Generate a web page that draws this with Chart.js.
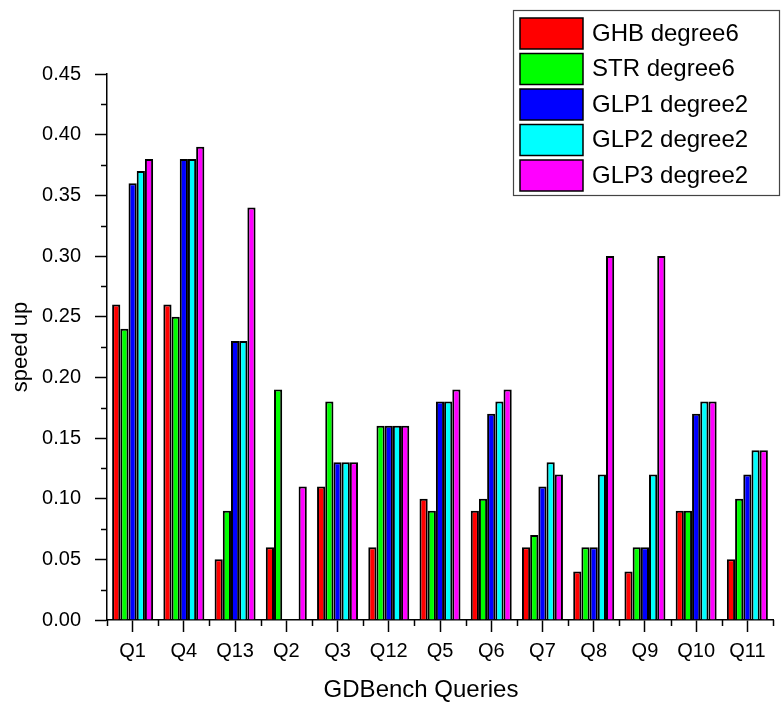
<!DOCTYPE html>
<html lang="en">
<head>
    <meta charset="UTF-8">
    <title>GDBench speed up</title>
    <script src="https://cdn.jsdelivr.net/npm/chart.js"></script>
    <style>
        * { margin: 0; padding: 0; box-sizing: border-box; }
        body { background: white; width: 783px; height: 708px; overflow: hidden; }
        .chart-box { position: relative; width: 783px; height: 708px; }
    </style>
</head>
<body>
    <div class="chart-box">
        <canvas id="speedChart"></canvas>
    </div>

    <script>
        // queries on the x axis
        const categories = ['Q1', 'Q4', 'Q13', 'Q2', 'Q3', 'Q12', 'Q5', 'Q6', 'Q7', 'Q8', 'Q9', 'Q10', 'Q11'];

        // speed up per query, one array per method
        const ghbDegree6 = [0.26, 0.26, 0.05, 0.06, 0.11, 0.06, 0.10, 0.09, 0.06, 0.04, 0.04, 0.09, 0.05];
        const strDegree6 = [0.24, 0.25, 0.09, 0.19, 0.18, 0.16, 0.09, 0.10, 0.07, 0.06, 0.06, 0.09, 0.10];
        const glp1Degree2 = [0.36, 0.38, 0.23, 0, 0.13, 0.16, 0.18, 0.17, 0.11, 0.06, 0.06, 0.17, 0.12];
        const glp2Degree2 = [0.37, 0.38, 0.23, 0, 0.13, 0.16, 0.18, 0.18, 0.13, 0.12, 0.12, 0.18, 0.14];
        const glp3Degree2 = [0.38, 0.39, 0.34, 0.11, 0.13, 0.16, 0.19, 0.19, 0.12, 0.30, 0.30, 0.18, 0.14];

        const seriesLabels = ['GHB degree6', 'STR degree6', 'GLP1 degree2', 'GLP2 degree2', 'GLP3 degree2'];
        const seriesColors = ['#FF0000', '#00FF00', '#0000FF', '#00FFFF', '#FF00FF'];
        const seriesValues = [ghbDegree6, strDegree6, glp1Degree2, glp2Degree2, glp3Degree2];

        // y axis range
        const yMin = 0;
        const yMax = 0.45;
        const yStep = 0.05;

        const FONT = "'Liberation Sans', Arial, sans-serif";

        // minor ticks, axis titles and the boxed legend
        const extrasPlugin = {
            id: 'extras',
            afterDraw(chart) {
                const ctx = chart.ctx;
                const area = chart.chartArea;
                const x = chart.scales.x;
                const y = chart.scales.y;
                ctx.save();
                ctx.strokeStyle = '#000';
                ctx.lineWidth = 1.5;

                // y minor ticks
                for (let v = yMin + yStep / 2; v < yMax; v += yStep) {
                    const py = Math.round(y.getPixelForValue(v)) + 0.5;
                    ctx.beginPath();
                    ctx.moveTo(area.left - 6, py);
                    ctx.lineTo(area.left, py);
                    ctx.stroke();
                }
                // x minor ticks at category edges
                const half = (x.getPixelForValue(1) - x.getPixelForValue(0)) / 2;
                for (let i = 0; i <= categories.length; i++) {
                    const px = Math.round(x.getPixelForValue(0) - half + i * half * 2) + 0.5;
                    ctx.beginPath();
                    ctx.moveTo(px, area.bottom);
                    ctx.lineTo(px, area.bottom + 6);
                    ctx.stroke();
                }

                // axis titles
                ctx.fillStyle = '#000';
                ctx.font = '24px ' + FONT;
                ctx.textAlign = 'center';
                ctx.textBaseline = 'middle';
                ctx.fillText('GDBench Queries', 421, 690);

                ctx.save();
                ctx.translate(21, (area.top + area.bottom) / 2);
                ctx.rotate(-Math.PI / 2);
                ctx.font = '22px ' + FONT;
                ctx.fillText('speed up', 0, 0);
                ctx.restore();

                // legend
                ctx.fillStyle = '#fff';
                ctx.fillRect(513, 10, 266, 185);
                ctx.strokeStyle = '#444';
                ctx.lineWidth = 1.2;
                ctx.strokeRect(513.5, 10.5, 266, 185);

                ctx.font = '24px ' + FONT;
                ctx.textAlign = 'left';
                chart.data.datasets.forEach((ds, i) => {
                    const top = 18 + i * 35.5;
                    ctx.fillStyle = ds.backgroundColor;
                    ctx.fillRect(520, top, 63, 31);
                    ctx.strokeStyle = '#000';
                    ctx.lineWidth = 1.5;
                    ctx.strokeRect(520, top, 63, 31);
                    ctx.fillStyle = '#000';
                    ctx.fillText(ds.label, 592, top + 16);
                });
                ctx.restore();
            }
        };

        const ctx = document.getElementById('speedChart').getContext('2d');
        new Chart(ctx, {
            type: 'bar',
            data: {
                labels: categories,
                datasets: seriesValues.map((vals, i) => ({
                    label: seriesLabels[i],
                    data: vals,
                    backgroundColor: seriesColors[i],
                    borderColor: '#000',
                    borderWidth: 2,
                    borderSkipped: 'start',
                    categoryPercentage: 0.8,
                    barPercentage: 1.0
                }))
            },
            options: {
                responsive: true,
                maintainAspectRatio: false,
                animation: false,
                layout: {
                    padding: { top: 74, right: 10, left: 0, bottom: 0 }
                },
                plugins: {
                    legend: { display: false },
                    tooltip: { enabled: false }
                },
                scales: {
                    x: {
                        afterFit: (scale) => { scale.height = 88; },
                        grid: {
                            display: true,
                            offset: false,
                            drawOnChartArea: false,
                            tickLength: 12,
                            tickWidth: 1.5,
                            tickColor: '#000'
                        },
                        border: { display: true, color: '#000', width: 1.5 },
                        ticks: {
                            color: '#000',
                            font: { family: FONT, size: 20 },
                            padding: 7,
                            maxRotation: 0,
                            autoSkip: false
                        }
                    },
                    y: {
                        min: yMin,
                        max: yMax,
                        afterFit: (scale) => { scale.width = 107; },
                        grid: {
                            display: true,
                            drawOnChartArea: false,
                            tickLength: 12,
                            tickWidth: 1.5,
                            tickColor: '#000'
                        },
                        border: { display: true, color: '#000', width: 1.5 },
                        ticks: {
                            stepSize: yStep,
                            color: '#000',
                            font: { family: FONT, size: 20 },
                            padding: 14,
                            callback: (v) => Number(v).toFixed(2)
                        }
                    }
                }
            },
            plugins: [extrasPlugin]
        });
    </script>
</body>
</html>
